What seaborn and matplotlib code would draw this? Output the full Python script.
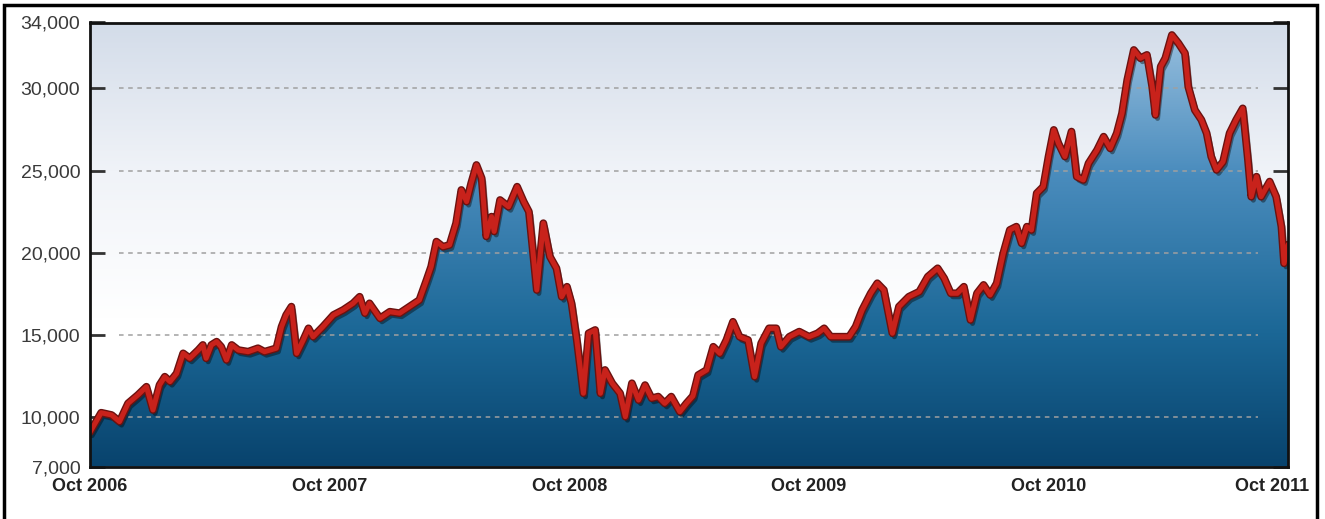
#!/usr/bin/env python3
import numpy as np
import pandas as pd
import matplotlib
matplotlib.use("Agg")
import matplotlib.pyplot as plt
import matplotlib.dates as mdates
import matplotlib.patheffects as pe
from matplotlib.colors import LinearSegmentedColormap
from matplotlib.patches import Rectangle
from matplotlib.transforms import ScaledTranslation
import seaborn as sns

# values
dates = [
    "2006-10-01", "2006-10-18", "2006-11-03", "2006-11-15", "2006-11-28", "2006-12-13",
    "2006-12-26", "2007-01-05", "2007-01-15", "2007-01-23", "2007-01-31", "2007-02-10",
    "2007-02-20", "2007-03-02", "2007-03-15", "2007-03-22", "2007-03-27", "2007-04-04",
    "2007-04-12", "2007-04-19", "2007-04-27", "2007-05-05", "2007-05-15", "2007-05-30",
    "2007-06-14", "2007-06-24", "2007-07-12", "2007-07-20", "2007-07-27", "2007-08-04",
    "2007-08-12", "2007-08-22", "2007-08-30", "2007-09-06", "2007-09-21", "2007-10-07",
    "2007-10-22", "2007-11-06", "2007-11-16", "2007-11-24", "2007-12-01", "2007-12-17",
    "2008-01-01", "2008-01-16", "2008-01-31", "2008-02-15", "2008-02-26", "2008-03-04",
    "2008-03-12", "2008-03-22", "2008-04-01", "2008-04-11", "2008-04-19", "2008-04-27",
    "2008-05-04", "2008-05-12", "2008-05-20", "2008-05-27", "2008-06-04", "2008-06-08",
    "2008-06-17", "2008-06-30", "2008-07-13", "2008-07-23", "2008-07-31", "2008-08-12",
    "2008-08-22", "2008-09-01", "2008-09-11", "2008-09-19", "2008-09-27", "2008-10-04",
    "2008-10-12", "2008-10-22", "2008-10-30", "2008-11-09", "2008-11-17", "2008-11-24",
    "2008-12-05", "2008-12-17", "2008-12-25", "2009-01-04", "2009-01-14", "2009-01-24",
    "2009-02-03", "2009-02-13", "2009-02-23", "2009-03-05", "2009-03-18", "2009-03-28",
    "2009-04-07", "2009-04-15", "2009-04-28", "2009-05-08", "2009-05-18", "2009-05-28",
    "2009-06-07", "2009-06-17", "2009-06-30", "2009-07-10", "2009-07-20", "2009-08-01",
    "2009-08-12", "2009-08-19", "2009-09-01", "2009-09-16", "2009-10-01", "2009-10-14",
    "2009-10-24", "2009-11-03", "2009-11-18", "2009-12-01", "2009-12-11", "2009-12-21",
    "2010-01-03", "2010-01-13", "2010-01-23", "2010-02-05", "2010-02-15", "2010-03-02",
    "2010-03-18", "2010-03-31", "2010-04-15", "2010-04-25", "2010-05-05", "2010-05-15",
    "2010-05-25", "2010-06-04", "2010-06-14", "2010-06-24", "2010-07-04", "2010-07-14",
    "2010-07-24", "2010-08-03", "2010-08-13", "2010-08-21", "2010-08-29", "2010-09-05",
    "2010-09-13", "2010-09-23", "2010-10-01", "2010-10-09", "2010-10-16", "2010-10-26",
    "2010-11-05", "2010-11-13", "2010-11-23", "2010-12-01", "2010-12-14", "2010-12-24",
    "2011-01-03", "2011-01-13", "2011-01-21", "2011-01-29", "2011-02-08", "2011-02-18",
    "2011-02-28", "2011-03-08", "2011-03-13", "2011-03-21", "2011-03-28", "2011-04-07",
    "2011-04-17", "2011-04-27", "2011-05-02", "2011-05-12", "2011-05-22", "2011-05-30",
    "2011-06-06", "2011-06-14", "2011-06-24", "2011-07-04", "2011-07-14", "2011-07-24",
    "2011-08-01", "2011-08-06", "2011-08-14", "2011-08-21", "2011-09-03", "2011-09-13",
    "2011-09-21", "2011-09-25", "2011-10-01",
]
index_values = [
    9100, 10280, 10140, 9740, 10850, 11360,
    11860, 10450, 11970, 12470, 12170, 12670,
    13890, 13590, 14090, 14400, 13590, 14400,
    14600, 14290, 13490, 14400, 14090, 13990,
    14200, 13990, 14200, 15510, 16220, 16730,
    13890, 14700, 15410, 14900, 15510, 16220,
    16530, 16930, 17330, 16330, 16930, 16020,
    16420, 16330, 16730, 17130, 18350, 19160,
    20680, 20370, 20480, 21800, 23820, 23110,
    24230, 25340, 24530, 21000, 22200, 21300,
    23210, 22800, 24020, 23110, 22500, 17740,
    21800, 19770, 19060, 17330, 17940, 16930,
    14700, 11460, 15110, 15310, 11460, 12880,
    12070, 11460, 10040, 12070, 11050, 11960,
    11160, 11260, 10850, 11260, 10340, 10850,
    11300, 12570, 12880, 14290, 13890, 14700,
    15810, 14900, 14700, 12470, 14500, 15410,
    15410, 14290, 14900, 15210, 14900, 15110,
    15410, 14900, 14900, 14900, 15510, 16530,
    17540, 18150, 17740, 15110, 16730, 17330,
    17640, 18550, 19060, 18450, 17540, 17540,
    17940, 15920, 17540, 18050, 17440, 18150,
    19970, 21390, 21590, 20580, 21590, 21390,
    23620, 24020, 25850, 27470, 26660, 25850,
    27370, 24630, 24430, 25440, 26250, 27060,
    26350, 27270, 28480, 30510, 32330, 31830,
    32030, 30100, 28380, 31320, 31830, 33240,
    32740, 32130, 30100, 28680, 28080, 27270,
    25850, 25040, 25540, 27270, 28080, 28780,
    25640, 23410, 24630, 23410, 24330, 23410,
    21590, 19360, 20500,
]
y_ticks = [7000, 10000, 15000, 20000, 25000, 30000, 34000]
grid_levels = [10000, 15000, 20000, 25000, 30000]
x_ticks = ["2006-10-01", "2007-10-01", "2008-10-01", "2009-10-01", "2010-10-01", "2011-10-01"]

df = pd.DataFrame({"Date": pd.to_datetime(dates), "Index": index_values})
x0, x1 = pd.Timestamp("2006-10-01"), pd.Timestamp("2011-10-01")
y0, y1 = 7000, 34000

sns.set_style("white")
plt.rcParams["font.family"] = ["Liberation Sans", "DejaVu Sans"]

fig = plt.figure(figsize=(13.25, 5.19), dpi=100)
ax = fig.add_axes([90 / 1325, 1 - 466.7 / 519, 1198 / 1325, (466.7 - 22.5) / 519])

# background gradient of the plot area
bg = LinearSegmentedColormap.from_list("bg", ["#ffffff", "#ffffff", "#f0f3f8", "#d3dce9"])
ax.imshow(np.linspace(0, 1, 256).reshape(-1, 1), cmap=bg, origin="lower", aspect="auto",
          extent=[0, 1, 0, 1], transform=ax.transAxes, zorder=0)

# gradient fill under the line
fill_cmap = LinearSegmentedColormap.from_list(
    "fill", [(0.0, "#08436d"), (0.3, "#1b6796"), (0.66, "#4a8cbd"), (1.0, "#9cc2e0")])
xn0, xn1 = mdates.date2num(x0), mdates.date2num(x1)
coll = ax.fill_between(df["Date"], df["Index"], y0, facecolor="none", edgecolor="none")
im = ax.imshow(np.linspace(0, 1, 256).reshape(-1, 1), cmap=fill_cmap, origin="lower",
               aspect="auto", extent=[xn0, xn1, y0, y1], zorder=1)
im.set_clip_path(coll.get_paths()[0], transform=ax.transData)

for lvl in grid_levels:
    ax.axhline(lvl, xmin=0.024, xmax=0.975, color="#a0a0a0", lw=1.1,
               ls=(0, (3, 3)), zorder=1.5)

sns.lineplot(data=df, x="Date", y="Index", ax=ax, color="#c8221b", lw=3.6, zorder=3,
             path_effects=[pe.SimpleLineShadow(offset=(1.5, -2.5), shadow_color="k", alpha=0.4),
                           pe.Stroke(linewidth=5.6, foreground="#6b1210"), pe.Normal()])

ax.set_xlim(x0, x1)
ax.set_ylim(y0, y1)
ax.set_xlabel("")
ax.set_ylabel("")

ax.set_yticks(y_ticks)
ax.set_yticklabels([f"{v:,}" for v in y_ticks])
ax.set_xticks(pd.to_datetime(x_ticks))
ax.xaxis.set_major_formatter(mdates.DateFormatter("%b %Y"))

ax.tick_params(axis="y", direction="in", length=11, width=2, color="#333333",
               labelsize=14, labelcolor="#3a3a3a", pad=7, right=True, left=True)
ax.tick_params(axis="x", direction="in", length=7, width=1.5, color="#cfe6f3",
               labelsize=13, labelcolor="#222222", pad=8)
for lab in ax.get_xticklabels():
    lab.set_fontweight("bold")
last = ax.get_xticklabels()[-1]
last.set_transform(last.get_transform() + ScaledTranslation(-0.16, 0, fig.dpi_scale_trans))

for side in ["left", "right", "top", "bottom"]:
    ax.spines[side].set_visible(True)
    ax.spines[side].set_color("#111111")
    ax.spines[side].set_linewidth(2)
    ax.spines[side].set_zorder(5)

# outer frame of the picture
fig.patches.append(Rectangle((4 / 1325, -0.05), 1313 / 1325, 1.0404, transform=fig.transFigure,
                             fill=False, lw=2.5, ec="black"))

fig.savefig("out.png", dpi=100)
